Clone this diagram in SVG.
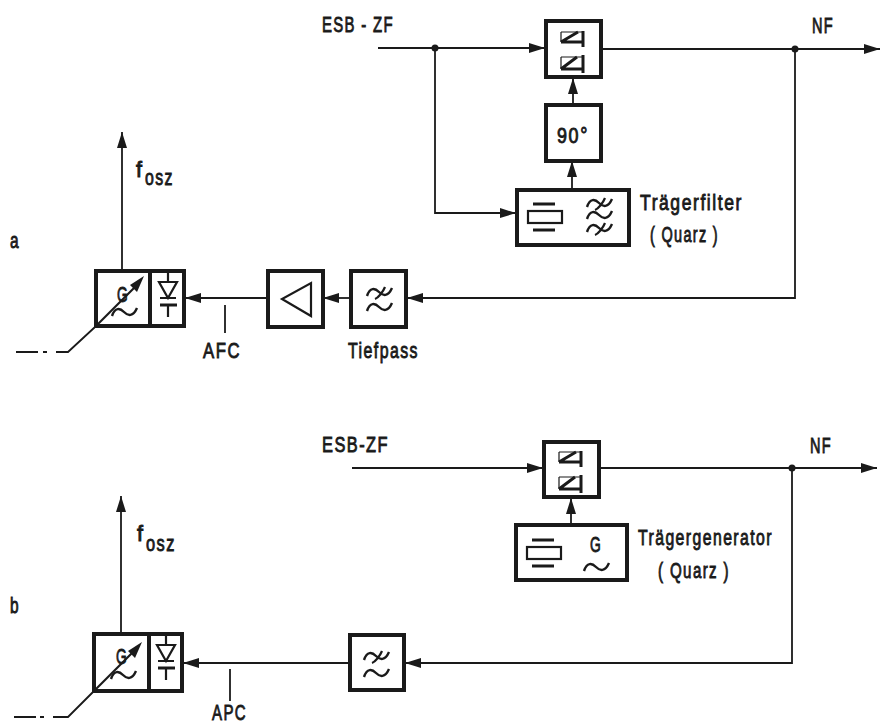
<svg xmlns="http://www.w3.org/2000/svg" width="883" height="725" viewBox="0 0 883 725">
<style>
.b{fill:#fff;stroke:#1a1a1a;stroke-width:4}
.l{fill:none;stroke:#1a1a1a;stroke-width:1.8}
.s{fill:none;stroke:#1a1a1a;stroke-width:2.2}
.n{fill:none;stroke:#1a1a1a;stroke-width:1.2}
.h{fill:none;stroke:#1a1a1a;stroke-width:3}
.t{font-family:"Liberation Sans",sans-serif;font-size:22px;letter-spacing:2px;fill:#1a1a1a;stroke:#1a1a1a;stroke-width:.9}
.k{fill:#1a1a1a}
</style>
<defs>
<marker id="a" markerUnits="userSpaceOnUse" markerWidth="17" markerHeight="11" refX="16" refY="5.5" orient="auto"><path d="M0 0.5L16 5.5L0 10.5Z" fill="#1a1a1a"/></marker>
<path id="wave" d="M0 4C3 -5 8 -4 12 0C16 4 21 5 25 -4" fill="none" stroke="#1a1a1a" stroke-width="2.4"/>
<g id="wavex"><use href="#wave"/><path class="s" d="M8 7C11 6 16 0 18 -5"/></g>
<g id="mix"><path class="n" d="M14 -17H36M14 -17V-7M14 8V20M14 8H36"/><path class="h" d="M14 -7H36M14 -7L31 -17M14 20H36M14 20L30 8M36 -18V-2M36 6V24"/></g>
<g id="quartz"><path class="h" d="M5 -13H27M5 13H27"/><rect x="0" y="-6" width="34" height="12" class="s"/></g>
<g id="diode"><path class="s" d="M18 4V14M18 37V49"/><path class="s" d="M9 14H27L18 30ZM10 30H26"/><path class="h" d="M10 37H27"/></g>
</defs>

<g id="connectors">
<path class="l" d="M378 48H545" marker-end="url(#a)"/>
<path class="l" d="M602 49H880" marker-end="url(#a)"/>
<path class="l" d="M435 48V213H516" marker-end="url(#a)"/>
<path class="l" d="M573 105V78" marker-end="url(#a)"/>
<path class="l" d="M572 189V161" marker-end="url(#a)"/>
<path class="l" d="M795 49V298H407" marker-end="url(#a)"/>
<path class="l" d="M350 298H323" marker-end="url(#a)"/>
<path class="l" d="M267 298H185" marker-end="url(#a)"/>
<path class="l" d="M122 270V132" marker-end="url(#a)"/>
<path class="l" d="M225 305V333"/>
<path class="l" d="M16 352H38M43 352H47M56 352H68L95 327"/>
<circle cx="435" cy="48" r="3.5" class="k"/>
<circle cx="795" cy="49" r="3.5" class="k"/>
<path class="l" d="M352 468H543" marker-end="url(#a)"/>
<path class="l" d="M600 468H877" marker-end="url(#a)"/>
<path class="l" d="M571 524V498" marker-end="url(#a)"/>
<path class="l" d="M792 468V663H405" marker-end="url(#a)"/>
<path class="l" d="M349 663H183" marker-end="url(#a)"/>
<path class="l" d="M121 633V496" marker-end="url(#a)"/>
<path class="l" d="M230 669V701"/>
<path class="l" d="M14 717H36M40 717H44M53 717H68L93 692"/>
<circle cx="792" cy="468" r="3.5" class="k"/>
</g>

<g id="mixer-a"><rect class="b" x="546" y="21" width="55" height="56"/><use href="#mix" x="547" y="49"/></g>
<g id="phase-90"><rect class="b" x="546" y="105" width="55" height="56"/><text class="t" x="557" y="143" textLength="32" lengthAdjust="spacingAndGlyphs">90°</text></g>
<g id="carrier-filter"><rect class="b" x="517" y="190" width="112" height="55"/><use href="#quartz" x="528" y="217"/>
<use href="#wavex" x="587" y="203"/><use href="#wave" x="587" y="215"/><use href="#wavex" x="587" y="228"/></g>
<g id="amp-a"><rect class="b" x="268" y="271" width="55" height="56"/><path class="s" d="M311 283V316L282 299Z"/></g>
<g id="lowpass-a"><rect class="b" x="351" y="271" width="55" height="56"/><use href="#wavex" x="367" y="292"/><use href="#wave" x="367" y="307"/></g>
<g id="osc-a"><rect class="b" x="96" y="271" width="88" height="55"/><path d="M150 271V326" class="b"/>
<text class="t" x="117" y="302" textLength="12" lengthAdjust="spacingAndGlyphs">G</text><use href="#wave" x="112" y="312"/>
<path class="s" d="M95 327L138 284"/><path class="k" d="M144 276L130 285L137 292Z"/>
<use href="#diode" x="150" y="268"/></g>

<g id="mixer-b"><rect class="b" x="544" y="442" width="55" height="55"/><use href="#mix" x="545" y="469"/></g>
<g id="carrier-gen"><rect class="b" x="516" y="525" width="111" height="55"/><use href="#quartz" x="527" y="553"/>
<text class="t" x="590" y="552" textLength="12" lengthAdjust="spacingAndGlyphs">G</text><use href="#wave" x="584" y="567"/></g>
<g id="lowpass-b"><rect class="b" x="350" y="635" width="54" height="55"/><use href="#wavex" x="364" y="656"/><use href="#wave" x="364" y="673"/></g>
<g id="osc-b"><rect class="b" x="94" y="634" width="88" height="57"/><path d="M149 634V691" class="b"/>
<text class="t" x="116" y="664" textLength="12" lengthAdjust="spacingAndGlyphs">G</text><use href="#wave" x="111" y="675"/>
<path class="s" d="M93 692L136 649"/><path class="k" d="M142 642L128 651L135 658Z"/>
<use href="#diode" x="148" y="631"/></g>

<g id="labels">
<text class="t" x="322" y="32" textLength="72" lengthAdjust="spacingAndGlyphs">ESB - ZF</text>
<text class="t" x="812" y="33" textLength="22" lengthAdjust="spacingAndGlyphs">NF</text>
<text class="t" x="136" y="177" textLength="8" lengthAdjust="spacingAndGlyphs">f</text><text class="t" x="145" y="185" textLength="29" lengthAdjust="spacingAndGlyphs">osz</text>
<text class="t" x="10" y="248" textLength="10" lengthAdjust="spacingAndGlyphs">a</text>
<text class="t" x="640" y="210" textLength="103" lengthAdjust="spacingAndGlyphs">Trägerfilter</text>
<text class="t" x="650" y="242" textLength="69" lengthAdjust="spacingAndGlyphs">( Quarz )</text>
<text class="t" x="203" y="358" textLength="38" lengthAdjust="spacingAndGlyphs">AFC</text>
<text class="t" x="348" y="358" textLength="71" lengthAdjust="spacingAndGlyphs">Tiefpass</text>
<text class="t" x="322" y="452" textLength="67" lengthAdjust="spacingAndGlyphs">ESB-ZF</text>
<text class="t" x="810" y="453" textLength="22" lengthAdjust="spacingAndGlyphs">NF</text>
<text class="t" x="137" y="541" textLength="8" lengthAdjust="spacingAndGlyphs">f</text><text class="t" x="146" y="551" textLength="30" lengthAdjust="spacingAndGlyphs">osz</text>
<text class="t" x="10" y="613" textLength="10" lengthAdjust="spacingAndGlyphs">b</text>
<text class="t" x="638" y="545" textLength="135" lengthAdjust="spacingAndGlyphs">Trägergenerator</text>
<text class="t" x="658" y="578" textLength="72" lengthAdjust="spacingAndGlyphs">( Quarz )</text>
<text class="t" x="212" y="720" textLength="35" lengthAdjust="spacingAndGlyphs">APC</text>
</g>
</svg>
